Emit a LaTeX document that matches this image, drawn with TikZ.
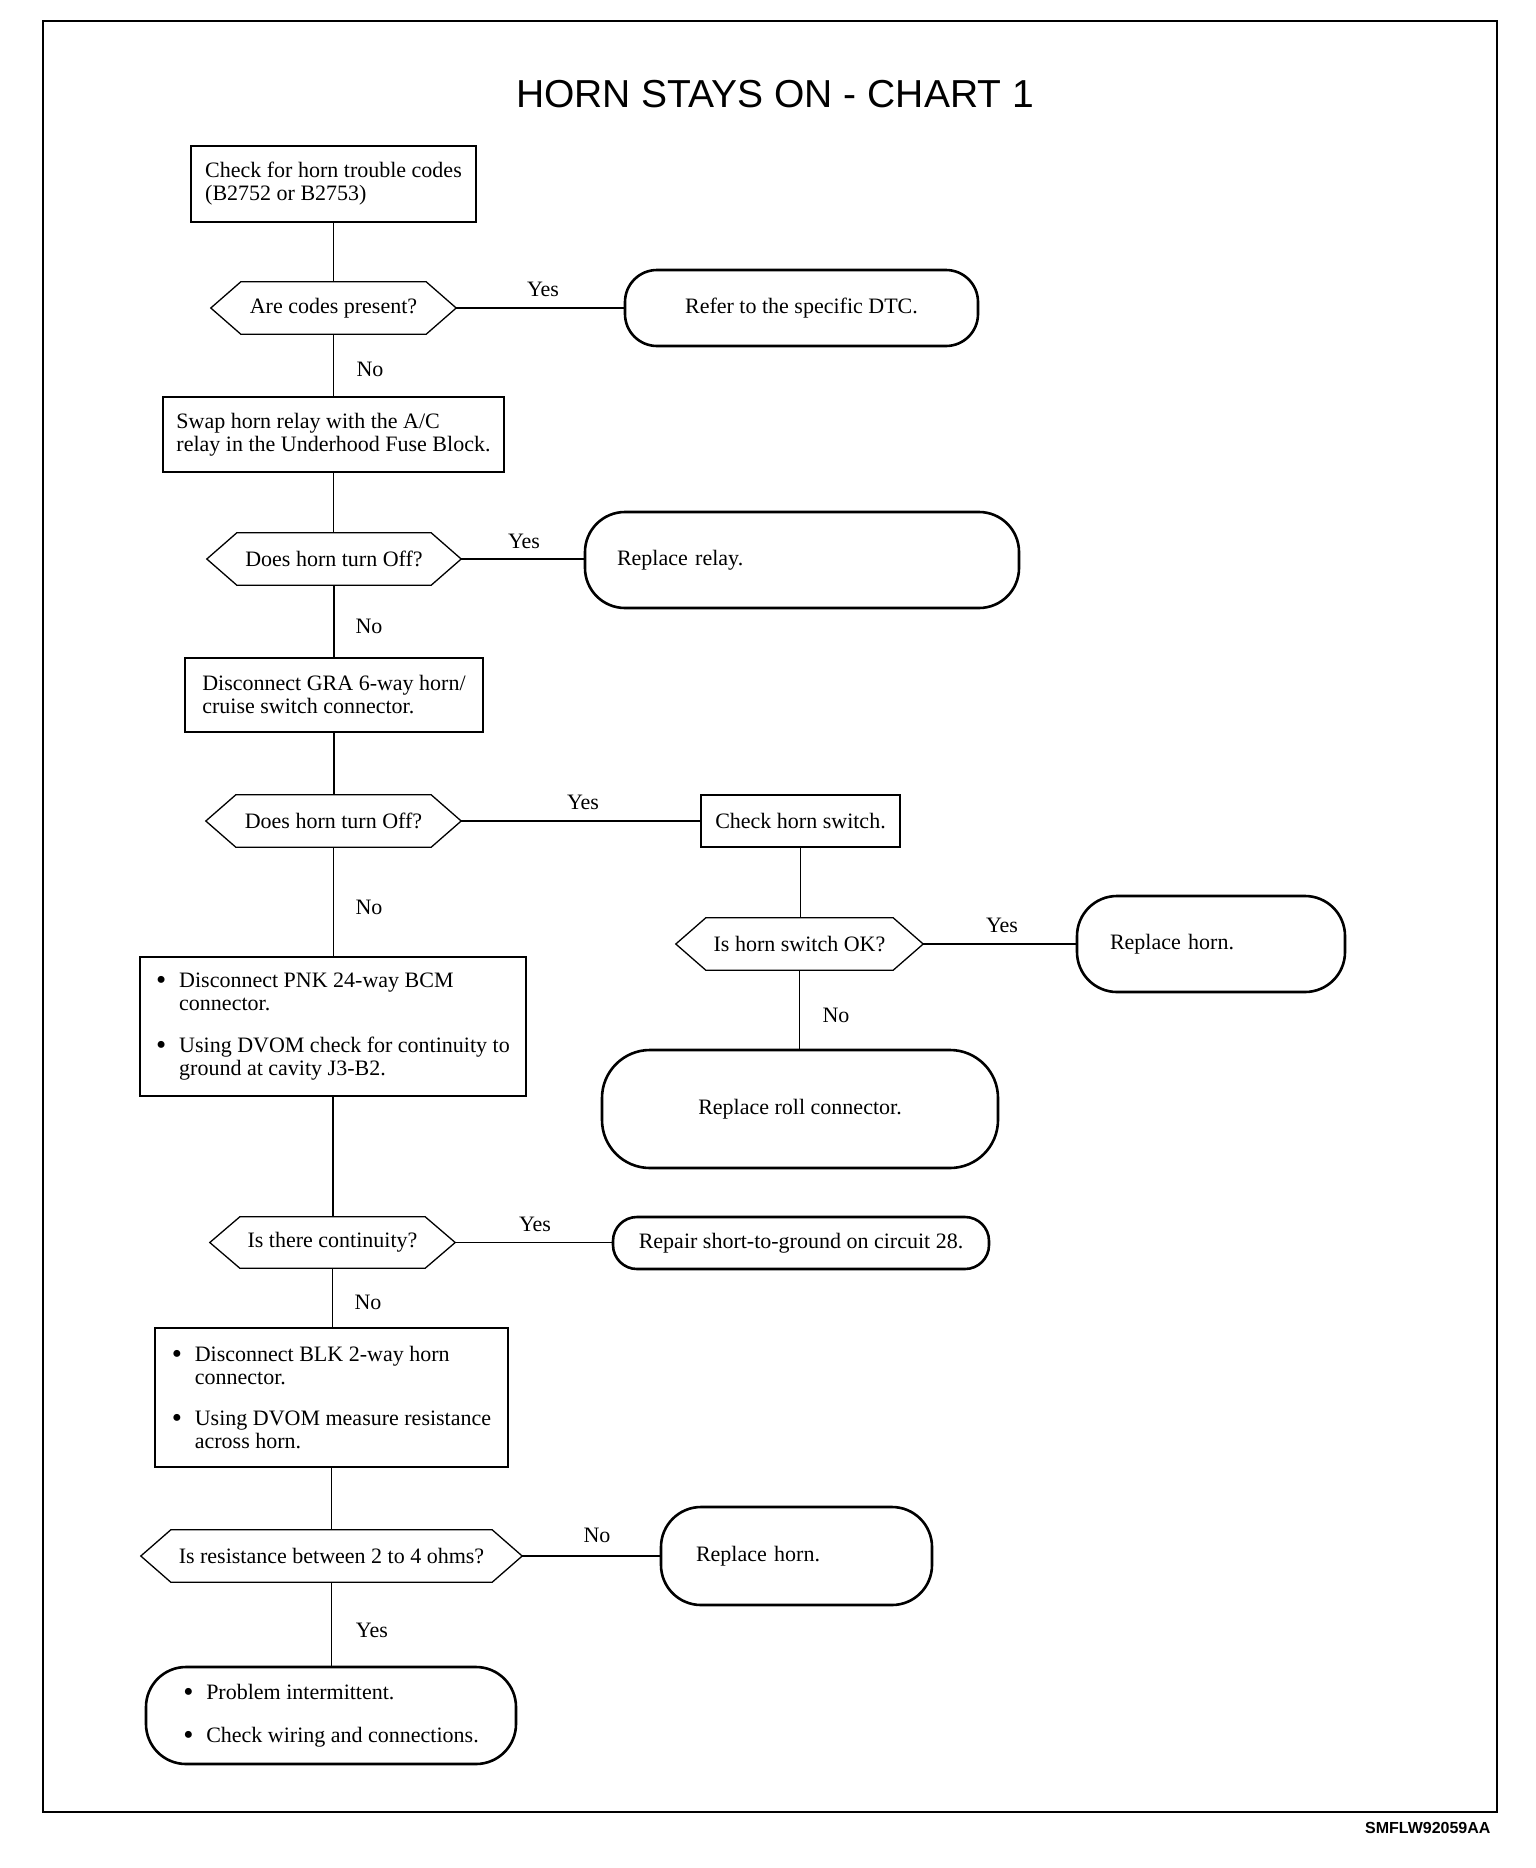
\documentclass[tikz,border=0pt]{standalone}
\usepackage{fontspec}
\setmainfont{Liberation Serif}
\newfontfamily\titlesans{Liberation Sans}
\newcommand\txtsz{\fontsize{22}{23}\selectfont}
\newcommand\bul{\makebox[23pt][l]{\raisebox{-2.5pt}{\fontsize{29}{23}\selectfont\textbullet}}}
\newcommand\ind{\hspace*{23pt}}
\newcommand\hexo[1]{\draw[hexline] (#1.west) -- ([xshift=30pt]#1.north west) -- ([xshift=-30pt]#1.north east) -- (#1.east) -- ([xshift=-30pt]#1.south east) -- ([xshift=30pt]#1.south west) -- cycle;}
\begin{document}
\begin{tikzpicture}[x=1pt,y=-1pt,
  every node/.style={font=\txtsz},
  sqbox/.style={draw, line width=2.4pt, inner sep=0pt, align=left},
  term/.style={draw, line width=2.6pt, inner sep=0pt, align=left},
  hexn/.style={inner sep=0pt, align=center, minimum height=52pt},
  hexline/.style={line width=1.3pt, line join=miter},
  conn/.style={line width=1.5pt},
  lbl/.style={inner sep=0pt}
]
\useasboundingbox (0,0) rectangle (1536,1868);
% frame
\draw[line width=2pt] (43,21) rectangle (1497,1812);
\node[anchor=base, font=\titlesans\fontsize{39}{41}\selectfont] (title) at (775,107) {HORN STAYS ON - CHART 1};
\node[anchor=base east, font=\titlesans\bfseries\fontsize{16}{18}\selectfont] (code) at (1494,1833) {SMFLW92059AA};

% main column
\node[sqbox, minimum width=285pt, minimum height=76pt] (b1) at (333.5,184) {Check for horn trouble codes\\(B2752 or B2753)};
\node[hexn, minimum width=245pt] (d1) at (333.5,308) {Are codes present?};
\node[term, rounded corners=32pt, minimum width=353pt, minimum height=76pt, align=center] (t1) at (801.5,308) {Refer to the specific DTC.};
\node[sqbox, minimum width=341pt, minimum height=75pt] (b2) at (333.5,434.5) {Swap horn relay with the A/C\\relay in the Underhood Fuse Block.};
\node[hexn, minimum width=254pt] (d2) at (334,559) {Does horn turn Off?};
\node[term, rounded corners=40pt, minimum width=434pt, minimum height=96pt, inner xsep=32pt, text width=370pt] (t2) at (802,560) {Replace relay.};
\node[sqbox, minimum width=298pt, minimum height=74pt] (b3) at (334,695) {Disconnect GRA 6-way horn/\\cruise switch connector.};
\node[hexn, minimum width=255pt] (d3) at (333.5,821) {Does horn turn Off?};
\node[sqbox, minimum width=199pt, minimum height=52pt, align=center] (b4) at (800.5,821) {Check horn switch.};
\node[hexn, minimum width=247pt] (d4) at (799.5,944) {Is horn switch OK?};
\node[term, rounded corners=40pt, minimum width=268pt, minimum height=96pt, inner xsep=33pt, text width=202pt] (t3) at (1211,944) {Replace horn.};
\node[term, rounded corners=48pt, minimum width=396pt, minimum height=118pt, align=center] (t4) at (800,1109) {Replace roll connector.};
\node[sqbox, minimum width=386pt, minimum height=139pt] (b5) at (333,1026.5) {\bul Disconnect PNK 24-way BCM\\\ind connector.\\[19pt]\bul Using DVOM check for continuity to\\\ind ground at cavity J3-B2.};
\node[hexn, minimum width=245pt, minimum height=51pt] (d5) at (332.5,1242.5) {Is there continuity?};
\node[term, rounded corners=24pt, minimum width=376pt, minimum height=52pt, align=center] (t5) at (801,1243) {Repair short-to-ground on circuit 28.};
\node[sqbox, minimum width=353pt, minimum height=139pt] (b6) at (331.5,1397.5) {\bul Disconnect BLK 2-way horn\\\ind connector.\\[18pt]\bul Using DVOM measure resistance\\\ind across horn.};
\node[hexn, minimum width=381pt] (d6) at (331.5,1556) {Is resistance between 2 to 4 ohms?};
\node[term, rounded corners=40pt, minimum width=271pt, minimum height=98pt, inner xsep=35pt, text width=201pt] (t6) at (796.5,1556) {Replace horn.};
\node[term, rounded corners=40pt, minimum width=370pt, minimum height=97pt] (t7) at (331,1715.5) {\bul Problem intermittent.\\[20pt]\bul Check wiring and connections.};

% hexagon outlines
\hexo{d1}\hexo{d2}\hexo{d3}\hexo{d4}\hexo{d5}\hexo{d6}

% connectors
\draw[conn] (b1.south) -- (b1.south |- d1.north);
\draw[conn] (d1.south) -- (d1.south |- b2.north);
\draw[conn] (b2.south) -- (b2.south |- d2.north);
\draw[conn] (d2.south) -- (d2.south |- b3.north);
\draw[conn] (b3.south) -- (b3.south |- d3.north);
\draw[conn] (d3.south) -- (d3.south |- b5.north);
\draw[conn] (b5.south) -- (b5.south |- d5.north);
\draw[conn] (d5.south) -- (d5.south |- b6.north);
\draw[conn] (b6.south) -- (b6.south |- d6.north);
\draw[conn] (d6.south) -- (d6.south |- t7.north);
\draw[conn] (d1.east) -- (d1.east -| t1.west);
\draw[conn] (d2.east) -- (d2.east -| t2.west);
\draw[conn] (d3.east) -- (d3.east -| b4.west);
\draw[conn] (b4.south) -- (b4.south |- d4.north);
\draw[conn] (d4.east) -- (d4.east -| t3.west);
\draw[conn] (d4.south) -- (d4.south |- t4.north);
\draw[conn] (d5.east) -- (d5.east -| t5.west);
\draw[conn] (d6.east) -- (d6.east -| t6.west);

% labels
\node[lbl] (y1) at (543,289) {Yes};
\node[lbl] (n1) at (370,369) {No};
\node[lbl] (y2) at (524,541) {Yes};
\node[lbl] (n2) at (369,626) {No};
\node[lbl] (y3) at (583,802) {Yes};
\node[lbl] (n3) at (369,907) {No};
\node[lbl] (y4) at (1002,925) {Yes};
\node[lbl] (n4) at (836,1015) {No};
\node[lbl] (y5) at (535,1224) {Yes};
\node[lbl] (n5) at (368,1302) {No};
\node[lbl] (n6) at (597,1535) {No};
\node[lbl] (y6) at (372,1630) {Yes};
\end{tikzpicture}
\end{document}
